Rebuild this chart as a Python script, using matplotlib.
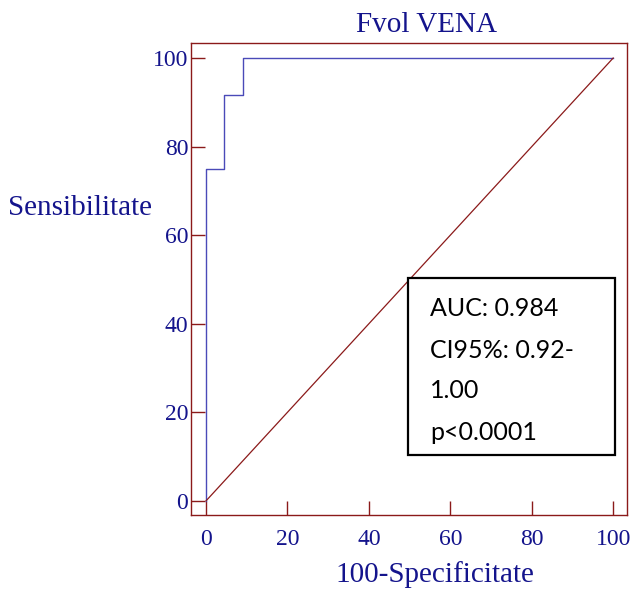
import matplotlib.pyplot as plt
from matplotlib.patches import Rectangle

# ROC curve steps (100-specificity, sensitivity)
fpr = [0, 0, 4.5, 4.5, 9.1, 9.1, 100]
sens = [0, 75, 75, 91.7, 91.7, 100, 100]
ticks = [0, 20, 40, 60, 80, 100]
stats_lines = ["AUC: 0.984", "CI95%: 0.92-", "1.00", "p<0.0001"]

navy = "#14148c"
red = "#8b1a1a"

fig = plt.figure(figsize=(6.36, 5.90), dpi=100)
ax = fig.add_axes([191 / 636, 1 - 515 / 590, 436 / 636, 472 / 590])

ax.plot(fpr, sens, color="#4a4ab8", lw=1.0)
ax.plot([0, 100], [0, 100], color=red, lw=0.9)

ax.set_xlim(-3.7, 103.4)
ax.set_ylim(-3.2, 103.4)
ax.set_xticks(ticks)
ax.set_yticks(ticks)
for s in ax.spines.values():
    s.set_color(red)
    s.set_linewidth(1.0)
ax.tick_params(direction="in", length=10, width=1.0, color=red,
               labelcolor=navy, labelsize=17)
ax.tick_params(axis="x", pad=10)
ax.tick_params(axis="y", pad=2)
for lab in ax.get_xticklabels() + ax.get_yticklabels():
    lab.set_fontfamily("Liberation Serif")

fig.text(426 / 636, 1 - 25 / 590, "Fvol VENA", ha="center", va="center",
         color=navy, fontsize=21, family="Liberation Serif")
fig.text(8 / 636, 1 - 208 / 590, "Sensibilitate", ha="left", va="center",
         color=navy, fontsize=21, family="Liberation Serif")
fig.text(435 / 636, 1 - 575 / 590, "100-Specificitate", ha="center", va="center",
         color=navy, fontsize=21, family="Liberation Serif")

# stats box
ax.add_patch(Rectangle((0.498, 0.127), 0.474, 0.375, transform=ax.transAxes,
                       fc="white", ec="black", lw=1.6, zorder=3))
line_y = [308, 350, 390, 432]
for txt, y in zip(stats_lines, line_y):
    ax.text((430 - 191) / 436, (515 - y) / 472, txt, transform=ax.transAxes,
            ha="left", va="center", fontsize=18, family="Lato", zorder=4)

fig.savefig("out.png", dpi=100)
